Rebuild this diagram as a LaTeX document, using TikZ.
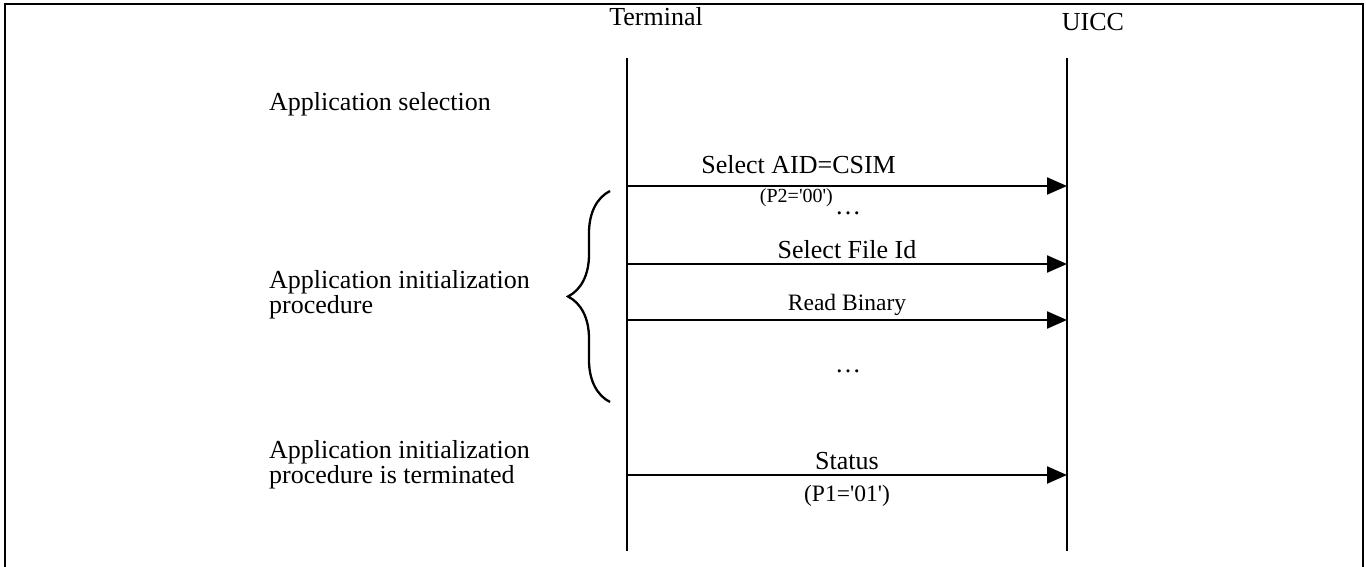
\documentclass[tikz,border=0pt]{standalone}
\usepackage{fontspec}
\setmainfont{Liberation Serif}
\usetikzlibrary{arrows.meta,positioning,decorations.pathreplacing}

\begin{document}
\begin{tikzpicture}[x=1pt,y=-1pt,
  every node/.style={font=\fontsize{26}{25}\selectfont,inner sep=0pt},
  small/.style={font=\fontsize{23.5}{26}\selectfont},
  tiny/.style={font=\fontsize{20}{22}\selectfont},
  life/.style={line width=2.3pt},
  msg/.style={line width=2.2pt,-{Triangle[length=20pt,width=17pt]}},
  phase/.style={anchor=north west,align=left},
  over/.style={anchor=base,yshift=#1},
  under/.style={anchor=base,yshift=-#1}]
\useasboundingbox (0,0) rectangle (1366,567);
\draw[line width=2.8pt] (5,567) -- (5,4) -- (1363,4) -- (1363,567);

\node (term) at (656,17) {Terminal};
\node (uicc) at (1093,22) {UICC};

\coordinate (tTop) at (627,58);
\coordinate (tBot) at (627,551);
\coordinate (uTop) at (1067,58);
\coordinate (uBot) at (1067,551);
\draw[life] (tTop) -- (tBot);
\draw[life] (uTop) -- (uBot);

% one row per command sent to the card
\foreach \n/\y in {a/186,b/264,c/320,d/475} {
  \coordinate (t\n) at (627,\y);
  \coordinate (u\n) at (1067,\y);
}
\draw[msg] (ta) -- (ua) node[pos=.39,over=12pt] {Select AID=CSIM}
  node[pos=.385,under=17pt,tiny] {(P2=\textquotesingle 00\textquotesingle)};
\draw[msg] (tb) -- (ub) node[midway,over=6pt] {Select File Id};
\draw[msg] (tc) -- (uc) node[midway,over=10pt,small] {Read Binary};
\draw[msg] (td) -- (ud) node[midway,over=6pt] {Status}
  node[midway,under=26pt,small] {(P1=\textquotesingle 01\textquotesingle)};

\node (dots1) at (848,213) {…};
\node (dots2) at (848,371) {…};

\node[phase] (sel) at (269,92) {Application selection};
\node[phase] (init) at (269,270) {Application initialization\\procedure};
\node[phase] (done) at (269,440) {Application initialization\\procedure is terminated};

\coordinate (brTop) at (610,191);
\coordinate (brBot) at (610,402);
\draw[life,decorate,decoration={brace,amplitude=42pt}] (brBot) -- (brTop);
\end{tikzpicture}
\end{document}
